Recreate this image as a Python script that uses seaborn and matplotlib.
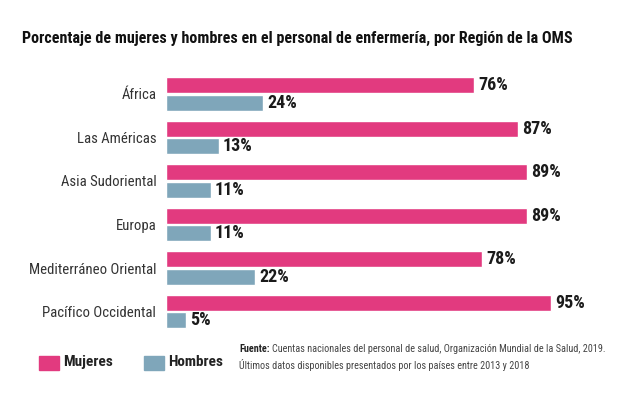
import pandas as pd
import matplotlib.pyplot as plt
import seaborn as sns
from matplotlib import font_manager
from matplotlib.patches import Rectangle

# Data
regiones = ['África', 'Las Américas', 'Asia Sudoriental', 'Europa',
            'Mediterráneo Oriental', 'Pacífico Occidental']
mujeres = [76, 87, 89, 89, 78, 95]
hombres = [24, 13, 11, 11, 22, 5]
series = ['Mujeres', 'Hombres']
colores = ['#E23A7F', '#7FA6BA']

df = pd.DataFrame({
    'region': regiones * 2,
    'valor': mujeres + hombres,
    'sexo': ['Mujeres'] * len(regiones) + ['Hombres'] * len(regiones),
})

# narrow font if there is one
disponibles = set(font_manager.get_font_names())
fuente = 'DejaVu Sans'
for f in ['Roboto Condensed', 'Liberation Sans Narrow', 'DejaVu Sans Condensed',
          'Open Sans Condensed', 'Noto Sans Condensed', 'Ubuntu Condensed']:
    if f in disponibles:
        fuente = f
        break
angosta = fuente != 'DejaVu Sans'
k = 1.0 if angosta else 0.85

sns.set_style('white')
plt.rcParams['font.family'] = [fuente, 'DejaVu Sans']

fig = plt.figure(figsize=(6.3, 3.97), dpi=100)
ax = fig.add_axes([0.2635, 0.1604, 0.643, 0.658])

sns.barplot(data=df, y='region', x='valor', hue='sexo', order=regiones,
            hue_order=series, palette=colores, orient='h', width=0.80,
            gap=0.08, saturation=1, legend=False, ax=ax)

ax.set_xlim(0, 100)
ax.set_ylim(5.5, -0.5)
ax.set_xlabel('')
ax.set_ylabel('')
ax.set_xticks([])
for s in ax.spines.values():
    s.set_visible(False)
ax.tick_params(axis='y', length=0, pad=7, labelsize=10.6 * k, labelcolor='#333333')

for cont in ax.containers:
    ax.bar_label(cont, fmt='%d%%', padding=3, fontsize=13 * k, fontweight='bold',
                 color='#1a1a1a')

fig.text(0.035, 0.885, 'Porcentaje de mujeres y hombres en el personal de enfermería, por Región de la OMS',
         fontsize=11.6 * k, fontweight='bold', color='#111111', va='bottom')

# Legend
for xc, xt, nombre, col in [(0.062, 0.100, 'Mujeres', colores[0]),
                            (0.229, 0.267, 'Hombres', colores[1])]:
    fig.patches.append(Rectangle((xc, 0.068), 0.032, 0.036, transform=fig.transFigure,
                                 color=col))
    fig.text(xt, 0.088, nombre, fontsize=11 * k, fontweight='bold',
             color='#222222', va='center')

t = fig.text(0.380, 0.121, 'Fuente:', fontsize=7.3 * k, fontweight='bold',
             color='#222222', va='center')
fig.canvas.draw()
bb = t.get_window_extent().transformed(fig.transFigure.inverted())
fig.text(bb.x1 + 0.004, 0.121,
         'Cuentas nacionales del personal de salud, Organización Mundial de la Salud, 2019.',
         fontsize=7.3 * k, color='#444444', va='center')
fig.text(0.380, 0.081, 'Últimos datos disponibles presentados por los países entre 2013 y 2018',
         fontsize=7.3 * k, color='#444444', va='center')

fig.savefig('out.png', dpi=100, facecolor='white')
